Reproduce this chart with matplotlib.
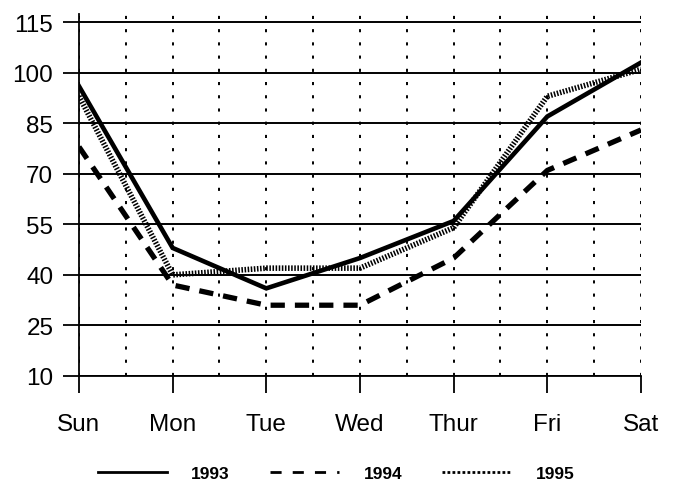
import matplotlib
matplotlib.use("Agg")
import matplotlib.pyplot as plt
from matplotlib.lines import Line2D
import numpy as np

days = ["Sun", "Mon", "Tue", "Wed", "Thur", "Fri", "Sat"]
s1993 = [96, 48, 36, 45, 56, 87, 103]
s1994 = [78, 37, 31, 31, 45, 71, 83]
s1995 = [93, 40, 42, 42, 54, 93, 101]
yticks = [10, 25, 40, 55, 70, 85, 100, 115]
labels = ["1993", "1994", "1995"]

plt.rcParams['font.family'] = ['Liberation Sans', 'DejaVu Sans']

fig = plt.figure(figsize=(6.79, 4.85), dpi=100)
ax = fig.add_axes([0.1163, 0.2227, 0.944 - 0.1163, 0.969 - 0.2227])

x = np.arange(len(days))
ax.plot(x, s1993, color='black', lw=3.3, solid_joinstyle='miter', zorder=5)
ax.plot(x, s1994, color='black', lw=3.8, dashes=(2.7, 1.9), zorder=5)
ax.plot(x, s1995, color='black', lw=4.0, dashes=(0.28, 0.28), zorder=5)

ax.set_xlim(0, 6)
ax.set_ylim(10, 117.4)
ax.set_xticks(x)
ax.set_xticklabels(days)
ax.set_xticks(np.arange(0.5, 6, 1.0), minor=True)
ax.set_yticks(yticks)
ax.set_yticklabels([str(v) for v in yticks])

for s in ['top', 'right']:
    ax.spines[s].set_visible(False)
for s in ['left', 'bottom']:
    ax.spines[s].set_linewidth(1.3)

ax.tick_params(axis='y', which='major', length=11.5, width=1.3, direction='out',
               labelsize=17.5, pad=7)
ax.tick_params(axis='x', which='major', length=12, width=1.3, direction='out',
               labelsize=17.5, pad=15)
ax.tick_params(axis='x', which='minor', length=0)

ax.grid(axis='y', which='major', color='black', lw=1.4, ls='-', zorder=1)
ax.grid(axis='x', which='both', color='black', lw=1.4, ls=(0, (1.6, 5.2)), zorder=1)
ax.set_axisbelow(True)

handles = [
    Line2D([], [], color='black', lw=2.0),
    Line2D([], [], color='black', lw=2.0, dashes=(4, 4)),
    Line2D([], [], color='black', lw=2.0, dashes=(1, 0.8)),
]
fig.legend(handles, labels, loc='center', bbox_to_anchor=(0.495, 0.022), ncol=3,
           frameon=False, handlelength=4.0, handletextpad=1.4, columnspacing=2.3,
           prop={'size': 12.5, 'weight': 'bold'})

fig.savefig("out.png", dpi=100)
